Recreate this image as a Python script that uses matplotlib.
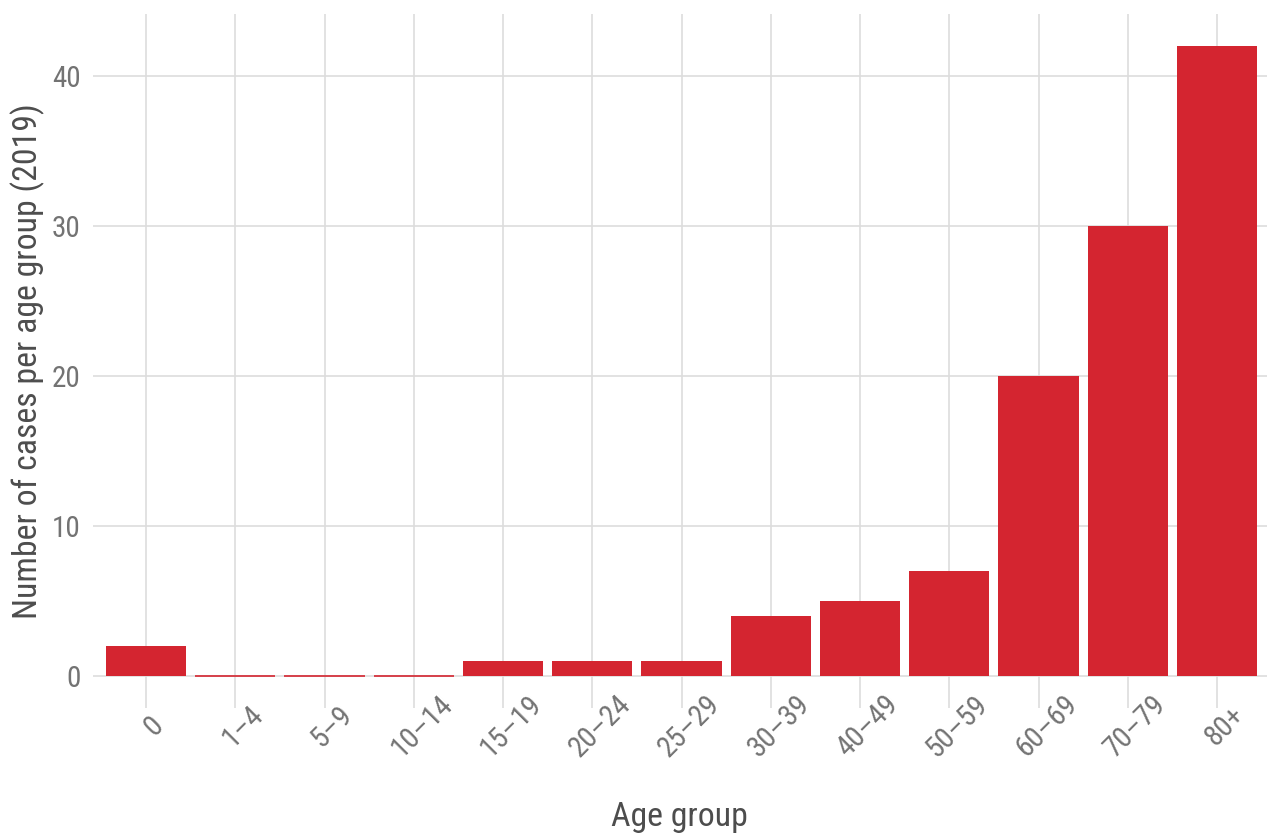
import matplotlib.pyplot as plt
import matplotlib.transforms as mtransforms
import numpy as np

age_groups = ['0', '1–4', '5–9', '10–14', '15–19', '20–24', '25–29',
              '30–39', '40–49', '50–59', '60–69', '70–79', '80+']
cases = [2, 0, 0, 0, 1, 1, 1, 4, 5, 7, 20, 30, 42]

plt.rcParams['font.family'] = ['Roboto Condensed', 'DejaVu Sans']

W, H = 1267, 839
fig = plt.figure(figsize=(W / 100, H / 100), dpi=100)
left, right, top, bottom = 92.5, 1267, 14, 707.5
ax = fig.add_axes([left / W, 1 - bottom / H, (right - left) / W, (bottom - top) / H])

x = np.arange(len(age_groups))
bar_col = '#D42530'
ax.bar(x, cases, width=0.9, color=bar_col, zorder=2)
# zero-height bars still show a thin line like ggplot does
for xi, v in zip(x, cases):
    if v == 0:
        ax.plot([xi - 0.45, xi + 0.45], [0, 0], color=bar_col, lw=1.2, zorder=3,
                solid_capstyle='butt')

ax.set_xlim(-0.6, 12.56)
ax.set_ylim(-2.1, 44.1)
ax.set_yticks([0, 10, 20, 30, 40])
ax.set_xticks(x)
ax.set_xticklabels(age_groups, rotation=45, ha='center', va='center', rotation_mode='anchor')

ax.grid(True, color='#DDDDDD', lw=1.2, zorder=0)
for s in ax.spines.values():
    s.set_visible(False)
ax.tick_params(axis='both', length=0, labelsize=21, labelcolor='#737373')
ax.tick_params(axis='x', pad=0)
ax.tick_params(axis='y', pad=8.5)

# shift rotated labels so their centres sit a bit right of and below the ticks
shift = mtransforms.ScaledTranslation(8 / 100, -18.5 / 100, fig.dpi_scale_trans)
for lab in ax.get_xticklabels():
    lab.set_transform(lab.get_transform() + shift)

ax.set_xlabel('Age group', fontsize=24.3, color='#4D4D4D')
ax.set_ylabel('Number of cases per age group (2019)', fontsize=24.3, color='#4D4D4D')
ax.xaxis.set_label_coords(0.5, (bottom - 801) / (bottom - top))
ax.yaxis.set_label_coords((45 - left) / (right - left), 0.5)

fig.savefig('out.png', dpi=100)
